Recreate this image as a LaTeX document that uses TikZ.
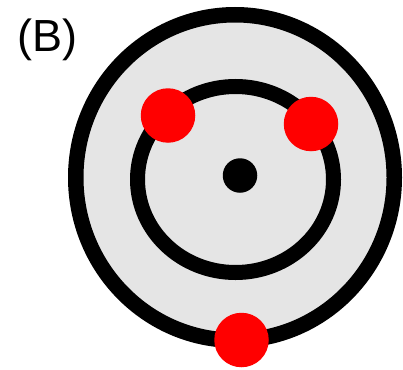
\documentclass[tikz,border=0pt]{standalone}
\usepackage{fontspec}
\setmainfont{Liberation Sans}
\usetikzlibrary{positioning}
\definecolor{shellgrey}{HTML}{E5E5E5}
\definecolor{ionred}{HTML}{FF0000}

\begin{document}
\begin{tikzpicture}[x=1pt,y=-1pt,
        ring/.style={draw=black,line width=15.5pt},
        ion/.style={circle,fill=ionred,inner sep=0pt,minimum size=54.5pt},
        core/.style={circle,fill=black,inner sep=0pt,minimum size=34.5pt}]
      \useasboundingbox (0,0) rectangle (403,369);
      \node[anchor=base west,font=\fontsize{45}{50}\selectfont] (lbl) at (14,52) {(B)};
      \draw[ring,fill=shellgrey] (235,177.5) ellipse [x radius=159.25,y radius=162.75];
      \draw[ring,line width=15pt] (235.5,179.5) ellipse [x radius=98,y radius=93];
      \node[core] (nuc) at (240,175.5) {};
      \node[ion] (e1) at (168,115.5) {};
      \node[ion] (e2) at (311,124) {};
      \node[ion] (e3) at (241.5,340) {};
    \end{tikzpicture}
\end{document}
